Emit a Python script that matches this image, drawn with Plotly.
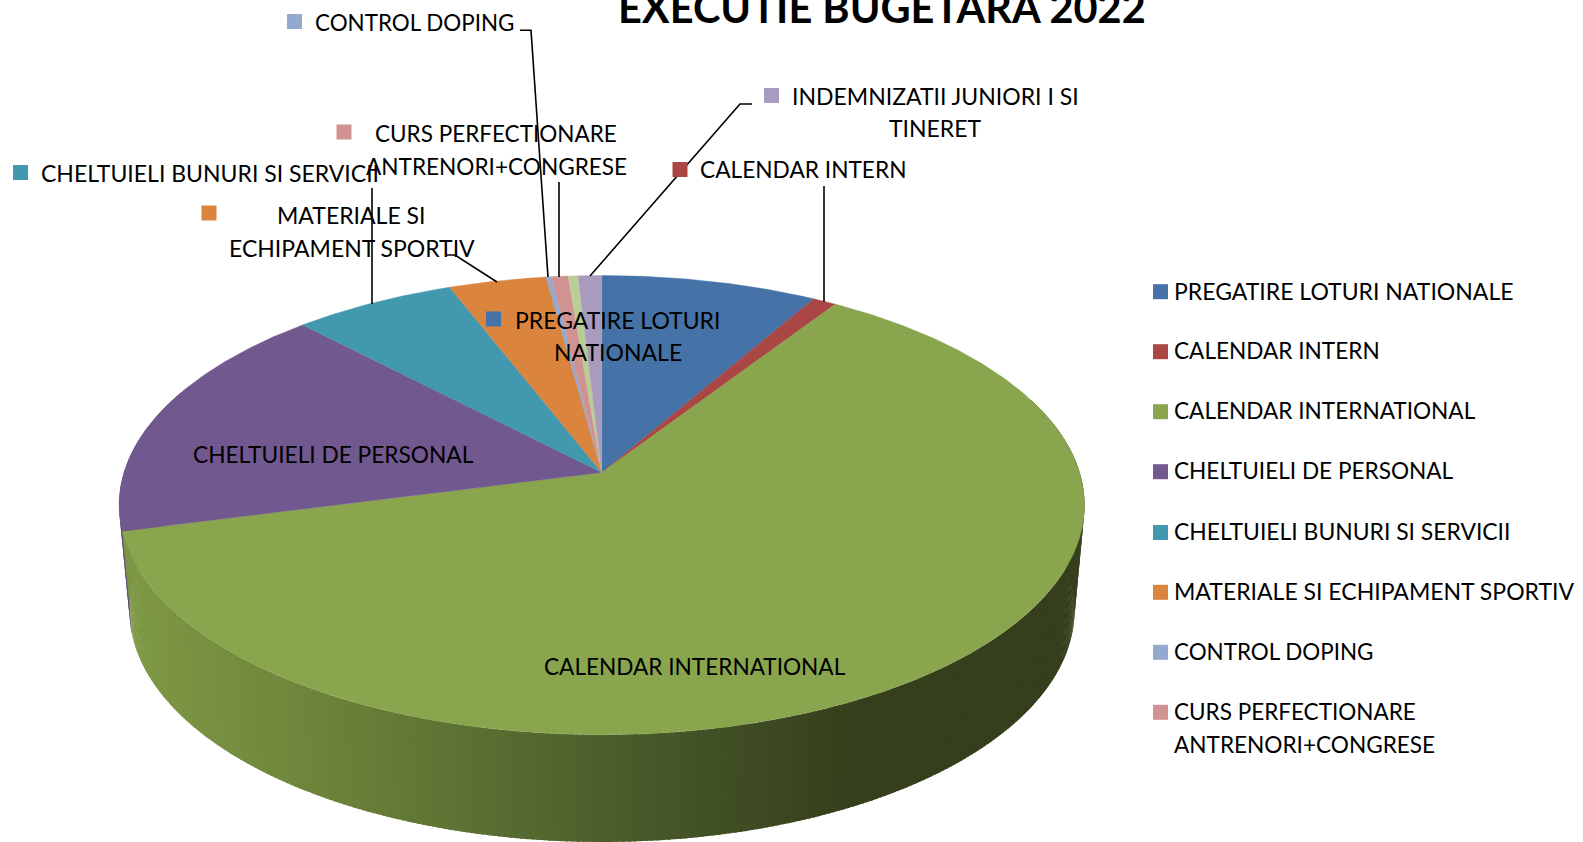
import numpy as np
import plotly.graph_objects as go

# ---- data ----
categories = ["PREGATIRE LOTURI NATIONALE", "CALENDAR INTERN", "CALENDAR INTERNATIONAL",
              "CHELTUIELI DE PERSONAL", "CHELTUIELI BUNURI SI SERVICII",
              "MATERIALE SI ECHIPAMENT SPORTIV", "CONTROL DOPING",
              "CURS PERFECTIONARE ANTRENORI+CONGRESE", "",
              "INDEMNIZATII JUNIORI I SI TINERET"]
values = [8.3, 0.9, 61.7, 16.9, 6.25, 3.75, 0.2, 0.64, 0.38, 0.9]

# ---- style ----
colors = ["#4572A7", "#AA4643", "#89A54E", "#71588F", "#4198AF", "#DB843D",
          "#93A9CF", "#D19392", "#B9CD96", "#A99BBD"]
FONT = "Lato"
FS = 23
P = 0.142
TOP = dict(cx=601.8, cy=472.5, A=477.8, B=225.0)
BOT = dict(cx=602.0, cy=577.4, A=467.7, B=227.0)
grad_x = [120, 300, 450, 600, 760, 860, 1090]
grad_rgb = np.array([[128, 155, 70], [112, 134, 60], [94, 116, 52], [77, 96, 44],
                     [62, 75, 35], [53, 63, 28], [55, 64, 30]], float)


def project(deg, pl):
    t = np.radians(deg)
    X, Y = np.sin(t), np.cos(t)
    w = 1 + P * Y
    return pl["cx"] + pl["A"] * X / w, pl["cy"] - pl["B"] * Y / w


def wall_color(i, x):
    if i == 2:
        rgb = [np.interp(x, grad_x, grad_rgb[:, k]) for k in range(3)]
    else:
        c = colors[i]
        rgb = [int(c[k:k + 2], 16) * 0.8 for k in (1, 3, 5)]
    return "rgb(%d,%d,%d)" % tuple(rgb)


fig = go.Figure()
shares = np.array(values) / sum(values) * 360
edges = np.concatenate([[0], np.cumsum(shares)])

# side wall: bands drawn left to right, each overlapping the one before it
strips = []
for i in range(len(values)):
    a0, a1 = edges[i], edges[i + 1]
    n = max(1, int(np.ceil((a1 - a0) / 0.6)))
    g = np.linspace(a0, a1, n + 1)
    for s, e in zip(g[:-1], g[1:]):
        if 70 <= (s + e) / 2 <= 292:
            strips.append((i, s, min(e + 0.35, a1)))
strips.sort(key=lambda r: (r[0] == 2, -r[1]))
for i, s, e in strips:
    tx0, ty0 = project(s, TOP)
    tx1, ty1 = project(e, TOP)
    bx0, by0 = project(s, BOT)
    bx1, by1 = project(e, BOT)
    col = wall_color(i, (tx0 + tx1 + bx0 + bx1) / 4)
    fig.add_trace(go.Scatter(x=[tx0, tx1, bx1, bx0, tx0], y=[ty0, ty1, by1, by0, ty0],
                             mode="lines", fill="toself", fillcolor=col,
                             line=dict(width=0), hoverinfo="skip", showlegend=False))

# top face
for i, name in enumerate(categories):
    g = np.arange(edges[i], edges[i + 1], 0.4)
    g = np.append(g, edges[i + 1])
    x, y = project(g, TOP)
    x = np.concatenate([[TOP["cx"]], x, [TOP["cx"]]])
    y = np.concatenate([[TOP["cy"]], y, [TOP["cy"]]])
    fig.add_trace(go.Scatter(x=x, y=y, mode="lines", fill="toself", fillcolor=colors[i],
                             line=dict(color=colors[i], width=0.4), name=name, showlegend=False,
                             hoverinfo="name"))

# leader lines
leaders = [
    [(520, 30.3), (531, 30.3), (548, 277)],
    [(559, 182), (559, 277)],
    [(752, 104), (740, 104), (590, 276)],
    [(824, 186), (824, 302)],
    [(372, 188), (372, 304)],
    [(446, 255), (455, 255), (497, 282)],
]
for pts in leaders:
    fig.add_trace(go.Scatter(x=[p[0] for p in pts], y=[p[1] for p in pts], mode="lines",
                             line=dict(color="black", width=1.6), hoverinfo="skip", showlegend=False))

# legend and label keys
leg_idx = [0, 1, 2, 3, 4, 5, 6, 7]
leg_y = [291.7, 351.7, 411.7, 471.7, 532.5, 592.3, 652.3, 712.3]
fig.add_trace(go.Scatter(x=[1160.5] * 8, y=leg_y, mode="markers", hoverinfo="skip", showlegend=False,
                         marker=dict(symbol="square", size=15, color=[colors[i] for i in leg_idx],
                                     line=dict(width=0))))
key_idx = [6, 9, 7, 1, 4, 5, 0, 3, 2]
key_x = [294.5, 771.5, 344, 680, 20.5, 209, 493.5, 173, 524]
key_y = [21.5, 95.5, 132, 169.5, 172.5, 213, 319, 454, 666]
fig.add_trace(go.Scatter(x=key_x, y=key_y, mode="markers", hoverinfo="skip", showlegend=False,
                         marker=dict(symbol="square", size=15, color=[colors[i] for i in key_idx],
                                     line=dict(width=0))))

ann = []


def label(txt, x, y, anchor="left", size=FS, bold=False):
    ann.append(dict(x=x, y=y, xref="x", yref="y", text=("<b>%s</b>" % txt) if bold else txt,
                    showarrow=False, xanchor=anchor, yanchor="middle",
                    font=dict(family=FONT, size=size, color="black")))


legend_lines = ["PREGATIRE LOTURI NATIONALE", "CALENDAR INTERN", "CALENDAR INTERNATIONAL",
                "CHELTUIELI DE PERSONAL", "CHELTUIELI BUNURI SI SERVICII",
                "MATERIALE SI ECHIPAMENT SPORTIV", "CONTROL DOPING", "CURS PERFECTIONARE"]
legend_sizes = [23, 22.6, 22.6, 22.6, 22.9, 23, 22.4, 22.5]
for t, y, sz in zip(legend_lines, leg_y, legend_sizes):
    label(t, 1172, y - 1.2, size=sz)
label("ANTRENORI+CONGRESE", 1172, 744.5, size=22.6)

label("CONTROL DOPING", 312.5, 22, size=22.4)
label("INDEMNIZATII JUNIORI I SI", 935, 96, "center")
label("TINERET", 935, 128, "center")
label("CURS PERFECTIONARE", 495.5, 133, "center", size=22.5)
label("ANTRENORI+CONGRESE", 496, 166, "center", size=22.6)
label("CALENDAR INTERN", 698, 169, size=22.7)
label("CHELTUIELI BUNURI SI SERVICII", 39, 172.5)
label("MATERIALE SI", 351.5, 214.5, "center")
label("ECHIPAMENT SPORTIV", 351.5, 247.5, "center")
label("PREGATIRE LOTURI", 617.5, 319.5, "center")
label("NATIONALE", 617.5, 352, "center")
label("CHELTUIELI DE PERSONAL", 191, 454.5, size=22.7)
label("CALENDAR INTERNATIONAL", 542, 666.5, size=22.6)
label("EXECUTIE BUGETARA 2022", 881.5, 6.5, "center", 41.5, True)

fig.update_layout(
    width=1583, height=842, margin=dict(l=0, r=0, t=0, b=0),
    paper_bgcolor="white", plot_bgcolor="white", showlegend=False, annotations=ann,
    xaxis=dict(range=[0, 1583], visible=False, fixedrange=True),
    yaxis=dict(range=[842, 0], visible=False, fixedrange=True),
)
fig.write_html("out.html", config={"displayModeBar": False},
               post_script="document.body.style.margin='0';document.body.style.overflow='hidden';")
